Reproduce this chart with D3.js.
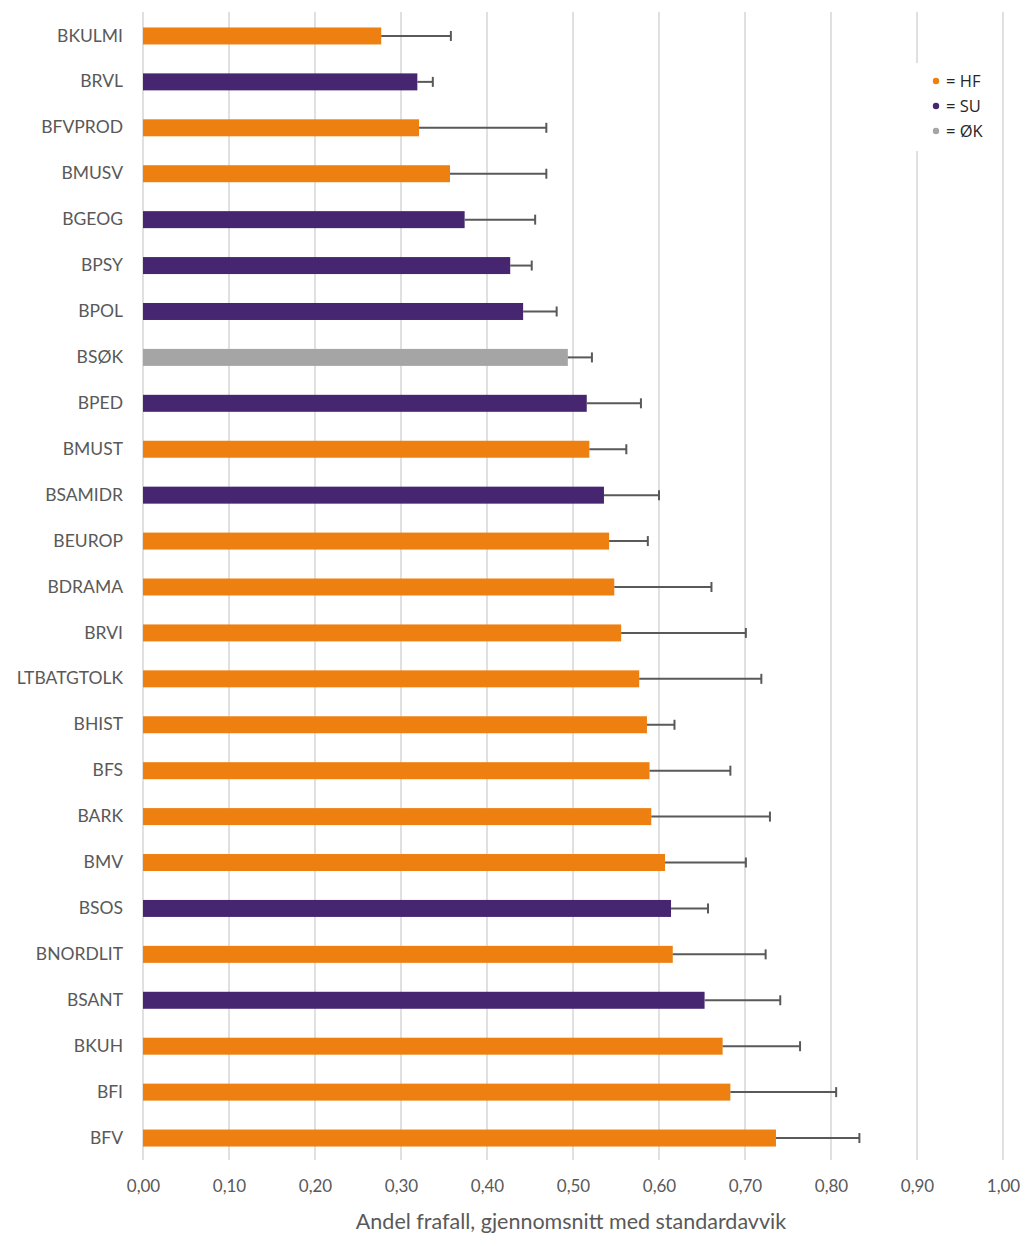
<!DOCTYPE html>
<html><head><meta charset="utf-8">
<script src="https://cdn.jsdelivr.net/npm/d3@7"></script>
<style>body{margin:0;background:#fff}svg{display:block}</style>
</head><body><svg id="c" width="1024" height="1235"></svg>
<script>
const categories = ["BKULMI","BRVL","BFVPROD","BMUSV","BGEOG","BPSY","BPOL","BSØK","BPED","BMUST","BSAMIDR","BEUROP","BDRAMA","BRVI","LTBATGTOLK","BHIST","BFS","BARK","BMV","BSOS","BNORDLIT","BSANT","BKUH","BFI","BFV"];
const means = [0.277,0.319,0.321,0.357,0.374,0.427,0.442,0.494,0.516,0.519,0.536,0.542,0.548,0.556,0.577,0.586,0.589,0.591,0.607,0.614,0.616,0.653,0.674,0.683,0.736];
const sds = [0.081,0.018,0.148,0.112,0.082,0.025,0.039,0.028,0.063,0.043,0.064,0.045,0.113,0.145,0.142,0.032,0.094,0.138,0.094,0.043,0.108,0.088,0.090,0.123,0.097];
const groups = ["HF","SU","HF","HF","SU","SU","SU","ØK","SU","HF","SU","HF","HF","HF","HF","HF","HF","HF","HF","SU","HF","SU","HF","HF","HF"];
const legendKeys = ["HF","SU","ØK"];
const groupColors = ["#EE8012","#472671","#A5A5A5"];
const xTicks = [0,0.1,0.2,0.3,0.4,0.5,0.6,0.7,0.8,0.9,1.0];
const xTitle = "Andel frafall, gjennomsnitt med standardavvik";

const svg = d3.select("#c");
const x = d3.scaleLinear().domain([0,1]).range([143,1003]);
const y = d3.scaleBand().domain(categories).range([13,1161]).paddingInner(0.63).paddingOuter(0.315);
const color = d3.scaleOrdinal().domain(legendKeys).range(groupColors);
const fmt = v => d3.format(".2f")(v).replace(".", ",");

// gridlines
svg.append("g").selectAll("line").data(xTicks).join("line")
  .attr("x1", d=>x(d)).attr("x2", d=>x(d)).attr("y1",12).attr("y2",1160)
  .attr("stroke","#D9D9D9").attr("stroke-width",1.6);

// x axis labels
const xAxis = d3.axisBottom(x).tickValues(xTicks).tickFormat(fmt).tickSize(0).tickPadding(20);
const gx = svg.append("g").attr("transform","translate(0,1160)").call(xAxis);
gx.select(".domain").remove();
gx.selectAll("text").attr("fill","#595959").style("font-family","Lato").style("font-size","17px");

// y axis labels
const yAxis = d3.axisLeft(y).tickSize(0).tickPadding(20);
const gy = svg.append("g").attr("transform","translate(143,0)").call(yAxis);
gy.select(".domain").remove();
gy.selectAll("text").attr("fill","#595959").style("font-family","Lato").style("font-size","17.5px");

// bars
svg.append("g").selectAll("rect").data(categories).join("rect")
  .attr("x", x(0)).attr("y", d=>y(d)).attr("height", y.bandwidth())
  .attr("width", (d,i)=>x(means[i])-x(0))
  .attr("fill", (d,i)=>color(groups[i]));

// error bars
const eb = svg.append("g").attr("stroke","#595959").attr("stroke-width",2);
categories.forEach((c,i)=>{
  const cy = y(c)+y.bandwidth()/2;
  eb.append("line").attr("x1",x(means[i])).attr("x2",x(means[i]+sds[i])).attr("y1",cy).attr("y2",cy);
  eb.append("line").attr("x1",x(means[i]+sds[i])).attr("x2",x(means[i]+sds[i])).attr("y1",cy-5).attr("y2",cy+5);
});

// x title
svg.append("text").attr("x",571).attr("y",1229).attr("text-anchor","middle")
  .attr("fill","#595959").style("font-family","Lato").style("font-size","21.5px").text(xTitle);

// legend
const lg = svg.append("g");
lg.append("rect").attr("x",912).attr("y",63).attr("width",86).attr("height",88).attr("fill","#fff");
legendKeys.forEach((k,i)=>{
  const cy = 81 + i*25;
  lg.append("circle").attr("cx",936).attr("cy",cy).attr("r",3.2).attr("fill",color(k));
  lg.append("text").attr("x",946).attr("y",cy+6).attr("fill","#262626")
    .style("font-family","Open Sans").style("font-size","16.5px").text("= "+k);
});
</script></body></html>
